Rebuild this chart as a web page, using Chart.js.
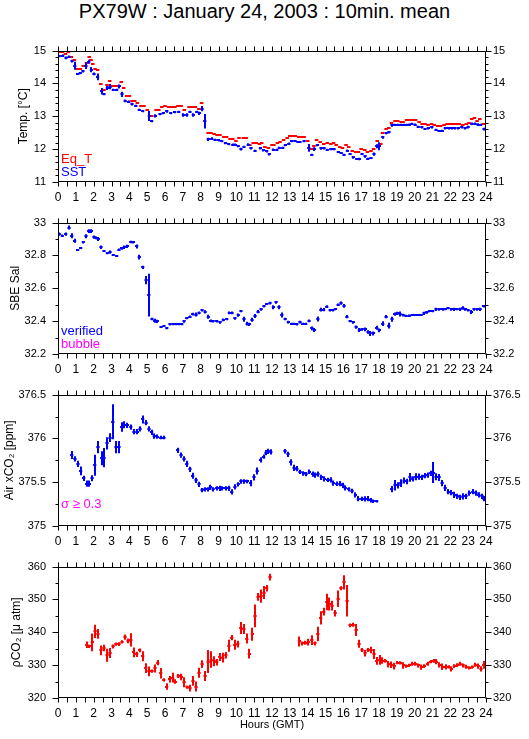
<!DOCTYPE html>
<html>
<head>
<meta charset="utf-8">
<script src="https://cdn.jsdelivr.net/npm/chart.js@4.4.1/dist/chart.umd.min.js"></script>
<style>
  body { margin: 0; background: #fff; width: 529px; height: 739px; position: relative; overflow: hidden;
         font-family: "Liberation Sans", Arial, sans-serif; }
  #title { position: absolute; left: 0; top: 0; width: 529px; text-align: center; font-size: 20px; color: #000; }
  canvas { position: absolute; left: 0; }
</style>
</head>
<body>
<div id="title">PX79W : January 24, 2003 : 10min. mean</div>
<canvas id="c1" width="529" height="180"></canvas>
<canvas id="c2" width="529" height="180"></canvas>
<canvas id="c3" width="529" height="180"></canvas>
<canvas id="c4" width="529" height="191"></canvas>
<script>
// ---- data (hours GMT, 10 min means) ----
const sstHours = [0.07,0.26,0.45,0.62,0.79,0.94,1.10,1.25,1.40,1.57,1.72,1.87,2.02,2.22,2.45,2.58,2.77,2.92,3.10,3.29,3.44,3.59,3.77,3.96,4.15,4.36,4.56,4.75,5.12,5.25,5.46,5.72,5.91,6.10,6.32,6.54,6.77,7.03,7.22,7.40,7.59,7.78,7.93,8.08,8.23,8.43,8.62,8.81,9.00,9.18,9.39,9.57,9.80,9.95,10.11,10.26,10.43,10.67,10.82,11.05,11.35,11.52,11.70,11.85,12.08,12.27,12.41,12.60,12.75,12.94,13.10,13.29,13.45,13.57,13.80,14.06,14.23,14.38,14.55,14.75,14.92,15.10,15.30,15.48,15.72,15.88,16.04,16.23,16.38,16.56,16.75,16.90,17.05,17.22,17.37,17.55,17.72,17.87,18.02,18.21,18.40,18.56,18.73,18.90,19.07,19.25,19.40,19.55,19.70,19.84,20.03,20.20,20.40,20.58,20.77,20.96,21.20,21.37,21.55,21.72,21.90,22.07,22.25,22.45,22.64,22.83,23.00,23.20,23.39,23.57,23.70,23.89];
const sstVals = [14.83,14.85,14.78,14.82,14.68,14.54,14.29,14.31,14.37,14.54,14.66,14.42,14.29,14.20,13.76,13.67,13.86,13.90,13.81,13.81,13.91,13.67,13.47,13.45,13.37,13.32,13.20,13.15,13.01,12.85,13.01,13.06,13.09,13.15,13.09,13.12,13.14,13.04,13.04,13.14,13.04,13.14,13.09,13.23,12.85,12.30,12.32,12.29,12.27,12.24,12.18,12.15,12.14,12.14,12.09,12.00,12.07,12.14,12.02,11.95,12.02,11.96,11.93,11.84,11.98,11.98,12.04,12.04,12.12,12.17,12.24,12.25,12.22,12.22,12.24,12.04,11.83,12.00,12.12,12.02,12.02,11.98,12.00,12.00,11.91,11.88,11.83,11.95,11.85,11.75,11.70,11.70,11.85,11.78,11.71,11.73,11.85,12.09,12.09,12.36,12.48,12.51,12.72,12.74,12.74,12.74,12.74,12.74,12.75,12.77,12.75,12.68,12.66,12.61,12.63,12.66,12.59,12.55,12.56,12.63,12.63,12.63,12.63,12.63,12.66,12.63,12.67,12.78,12.78,12.75,12.74,12.61];
const sstErr = [.03,.03,.04,.03,.04,.12,.03,.03,.04,.10,.06,.08,.04,.10,.10,.03,.06,.08,.03,.03,.06,.08,.04,.03,.04,.03,.03,.03,.15,.03,.05,.03,.03,.04,.03,.03,.03,.05,.05,.03,.05,.03,.05,.08,.22,.05,.04,.03,.04,.03,.03,.03,.03,.03,.03,.04,.03,.04,.03,.03,.03,.03,.03,.03,.04,.03,.03,.03,.03,.03,.03,.03,.03,.03,.03,.12,.03,.06,.03,.04,.03,.03,.03,.03,.03,.03,.03,.04,.03,.04,.03,.04,.03,.04,.03,.03,.05,.06,.12,.04,.03,.03,.04,.03,.03,.03,.03,.03,.03,.03,.03,.03,.03,.03,.03,.03,.03,.03,.03,.03,.03,.03,.03,.03,.03,.03,.04,.03,.03,.04,.03,.04];

const eqtHours = [0.08,0.25,0.42,0.58,0.75,0.92,1.08,1.25,1.42,1.60,1.75,1.85,1.95,2.08,2.22,2.40,2.58,2.75,2.90,3.08,3.25,3.42,3.55,3.68,3.85,4.00,4.15,4.30,4.45,4.65,4.82,5.00,5.15,5.25,5.50,5.65,5.82,6.00,6.20,6.38,6.55,6.72,6.90,7.08,7.35,7.52,7.70,7.90,8.05,8.42,8.58,8.75,8.92,9.08,9.30,9.45,9.65,9.80,9.98,10.15,10.40,10.55,10.75,10.95,11.12,11.30,11.42,11.60,11.80,12.00,12.10,12.30,12.45,12.65,12.85,13.00,13.15,13.30,13.50,13.65,13.80,14.00,14.20,14.35,14.50,14.70,14.90,15.10,15.30,15.45,15.60,15.80,15.95,16.15,16.30,16.50,16.70,16.85,17.00,17.20,17.35,17.55,17.70,17.90,18.10,18.20,18.40,18.55,18.70,18.90,19.05,19.25,19.35,19.55,19.70,19.88,20.05,20.25,20.42,20.58,20.75,20.95,21.10,21.30,21.45,21.65,21.82,22.00,22.15,22.32,22.50,22.70,22.90,23.05,23.20,23.35,23.50,23.65,23.85];
const eqtVals = [14.95,14.95,14.90,14.95,14.80,14.72,14.43,14.43,14.52,14.62,14.80,14.70,14.60,14.43,14.42,13.97,13.80,13.95,14.07,13.92,13.92,13.92,14.03,13.86,13.62,13.62,13.47,13.47,13.41,13.31,13.31,13.18,13.01,13.01,13.18,13.18,13.28,13.32,13.27,13.29,13.29,13.32,13.32,13.20,13.28,13.28,13.28,13.22,13.40,12.50,12.50,12.47,12.44,12.44,12.36,12.36,12.32,12.32,12.26,12.33,12.34,12.34,12.12,12.18,12.18,12.17,12.19,12.06,12.05,12.12,12.12,12.19,12.22,12.27,12.33,12.39,12.41,12.41,12.38,12.38,12.38,12.24,12.00,12.09,12.27,12.22,12.17,12.19,12.17,12.19,12.12,12.06,12.02,12.12,12.06,11.95,11.90,11.90,12.00,11.98,11.90,11.93,12.00,12.24,12.17,12.50,12.61,12.65,12.80,12.86,12.87,12.84,12.84,12.90,12.90,12.90,12.90,12.84,12.78,12.78,12.74,12.78,12.74,12.69,12.69,12.72,12.76,12.76,12.76,12.76,12.76,12.72,12.76,12.81,12.91,12.94,12.87,12.91,12.77];

const salHours = [0.07,0.24,0.43,0.62,0.77,0.93,1.10,1.27,1.42,1.57,1.72,1.87,2.02,2.15,2.26,2.41,2.58,2.77,2.92,3.10,3.29,3.42,3.57,3.72,3.89,4.08,4.23,4.41,4.56,4.75,4.94,5.09,5.27,5.42,5.57,5.78,5.94,6.10,6.28,6.47,6.63,6.78,6.94,7.07,7.22,7.40,7.55,7.74,7.91,8.08,8.25,8.43,8.56,8.70,8.90,9.09,9.27,9.46,9.61,9.76,9.92,10.11,10.26,10.43,10.61,10.73,10.88,11.05,11.22,11.39,11.55,11.70,11.89,12.08,12.23,12.39,12.55,12.74,12.92,13.10,13.25,13.39,13.57,13.72,13.89,14.08,14.23,14.38,14.57,14.74,14.89,15.07,15.26,15.41,15.56,15.71,15.87,16.04,16.20,16.38,16.56,16.72,16.90,17.05,17.24,17.39,17.50,17.69,17.87,18.02,18.21,18.40,18.55,18.73,18.88,19.03,19.18,19.36,19.51,19.70,19.85,20.03,20.19,20.37,20.53,20.68,20.83,21.01,21.20,21.39,21.57,21.72,21.87,22.06,22.21,22.36,22.55,22.70,22.85,23.00,23.18,23.33,23.52,23.67,23.86];
const salVals = [32.930,32.920,32.930,32.970,32.920,32.890,32.835,32.845,32.880,32.917,32.948,32.948,32.912,32.907,32.900,32.850,32.827,32.812,32.820,32.802,32.796,32.835,32.843,32.850,32.855,32.882,32.880,32.855,32.790,32.728,32.650,32.559,32.413,32.402,32.398,32.365,32.369,32.356,32.380,32.380,32.380,32.380,32.380,32.398,32.417,32.427,32.443,32.440,32.450,32.466,32.456,32.427,32.402,32.398,32.398,32.392,32.408,32.412,32.450,32.450,32.417,32.437,32.460,32.412,32.385,32.380,32.408,32.431,32.458,32.472,32.491,32.505,32.510,32.485,32.514,32.485,32.437,32.413,32.394,32.385,32.385,32.380,32.394,32.385,32.385,32.402,32.356,32.346,32.413,32.470,32.470,32.489,32.466,32.466,32.472,32.500,32.510,32.493,32.427,32.400,32.392,32.363,32.346,32.350,32.350,32.334,32.325,32.325,32.360,32.344,32.385,32.427,32.373,32.412,32.443,32.447,32.443,32.437,32.433,32.433,32.437,32.437,32.437,32.437,32.447,32.453,32.460,32.460,32.472,32.472,32.472,32.472,32.478,32.472,32.472,32.472,32.472,32.480,32.472,32.466,32.456,32.472,32.472,32.472,32.491];
const salErr = [.010,.008,.010,.012,.015,.012,.005,.005,.008,.012,.012,.012,.010,.008,.012,.010,.005,.005,.010,.005,.005,.008,.008,.010,.010,.008,.008,.012,.015,.010,.025,.130,.008,.012,.010,.006,.005,.005,.006,.005,.005,.005,.005,.008,.006,.008,.008,.012,.008,.008,.010,.012,.008,.006,.006,.008,.008,.006,.008,.008,.008,.010,.006,.015,.012,.010,.012,.012,.010,.008,.008,.006,.008,.012,.008,.012,.015,.008,.008,.006,.006,.006,.008,.006,.006,.008,.012,.012,.015,.012,.010,.008,.008,.008,.006,.008,.010,.012,.010,.006,.008,.010,.012,.008,.012,.010,.015,.012,.012,.012,.015,.010,.018,.015,.010,.010,.015,.008,.006,.008,.006,.006,.006,.006,.010,.008,.006,.006,.010,.008,.008,.006,.006,.008,.010,.006,.010,.010,.008,.008,.012,.008,.008,.010,.008];

const airHours = [0.77,0.95,1.12,1.27,1.44,1.61,1.76,1.91,2.06,2.24,2.45,2.58,2.75,2.92,3.07,3.25,3.42,3.57,3.72,3.89,4.08,4.26,4.45,4.60,4.75,4.94,5.10,5.25,5.40,5.57,5.76,5.94,6.71,6.90,7.07,7.22,7.40,7.55,7.74,7.91,8.08,8.25,8.42,8.55,8.70,8.90,9.06,9.22,9.40,9.58,9.74,9.92,10.11,10.26,10.45,10.62,10.80,10.99,11.17,11.36,11.53,11.66,11.79,11.93,12.73,12.90,13.05,13.24,13.39,13.57,13.76,13.91,14.10,14.28,14.41,14.58,14.77,14.94,15.12,15.29,15.44,15.63,15.82,15.96,16.11,16.30,16.49,16.68,16.84,17.03,17.20,17.37,17.53,17.68,17.87,18.71,18.90,19.07,19.22,19.41,19.55,19.74,19.89,20.06,20.23,20.40,20.56,20.73,20.90,21.05,21.20,21.37,21.54,21.71,21.89,22.06,22.23,22.39,22.54,22.73,22.88,23.07,23.26,23.44,23.59,23.78,23.89];
const airVals = [375.810,375.766,375.709,375.629,375.545,375.483,375.483,375.545,375.694,375.900,375.773,375.780,375.944,376.010,376.190,375.900,375.900,376.130,376.155,376.148,376.130,376.076,376.076,376.110,376.216,376.180,376.110,376.070,376.027,376.020,376.010,376.010,375.864,375.810,375.766,375.709,375.647,375.574,375.520,375.475,375.410,375.418,375.418,375.440,375.418,375.430,375.430,375.430,375.430,375.430,375.390,375.447,375.475,375.508,375.508,375.508,375.490,375.555,375.629,375.755,375.792,375.839,375.853,375.846,375.853,375.817,375.726,375.664,375.654,375.618,375.600,375.592,375.620,375.592,375.581,375.592,375.555,375.537,375.526,375.526,375.490,375.483,375.483,375.464,375.435,375.418,375.400,375.356,375.312,375.309,375.309,375.312,375.294,375.283,375.283,375.421,375.464,375.464,375.490,375.519,375.508,375.555,375.537,375.563,375.563,375.555,375.574,375.581,375.600,375.610,375.563,375.555,375.490,375.435,375.392,375.381,375.356,375.338,375.327,375.338,375.338,375.374,375.392,375.374,375.356,375.338,375.312];
const airErr = [.045,.03,.035,.05,.03,.035,.035,.035,.12,.07,.08,.11,.07,.05,.20,.07,.07,.055,.04,.03,.03,.03,.03,.03,.045,.03,.03,.03,.03,.025,.02,.02,.03,.03,.03,.035,.03,.035,.03,.03,.025,.025,.025,.03,.025,.025,.03,.025,.025,.03,.03,.03,.025,.025,.025,.02,.035,.035,.04,.03,.025,.03,.03,.03,.025,.03,.035,.035,.03,.025,.025,.025,.025,.03,.03,.03,.03,.03,.025,.03,.03,.025,.03,.03,.03,.025,.025,.03,.03,.025,.03,.03,.025,.02,.015,.035,.06,.035,.045,.035,.03,.05,.03,.04,.035,.03,.03,.03,.03,.12,.04,.04,.035,.035,.03,.03,.035,.03,.03,.035,.03,.03,.03,.03,.03,.03,.03];

const pco2Hours = [1.61,1.76,1.93,2.08,2.24,2.41,2.58,2.75,2.92,3.09,3.25,3.42,3.59,3.76,3.93,4.08,4.24,4.41,4.58,4.75,4.92,5.10,5.27,5.44,5.59,5.76,5.93,6.09,6.26,6.43,6.58,6.75,6.92,7.07,7.24,7.40,7.57,7.74,7.91,8.08,8.25,8.42,8.59,8.76,8.90,9.07,9.24,9.41,9.58,9.74,9.91,10.08,10.25,10.42,10.59,10.73,10.90,11.05,11.22,11.39,11.55,11.70,11.89,13.54,13.70,13.87,14.04,14.23,14.41,14.57,14.73,14.90,15.07,15.22,15.37,15.54,15.71,15.87,16.04,16.21,16.38,16.55,16.72,16.88,17.05,17.22,17.39,17.56,17.72,17.87,18.04,18.19,18.36,18.53,18.69,18.86,19.03,19.20,19.37,19.54,19.71,19.87,20.04,20.21,20.38,20.55,20.72,20.89,21.06,21.22,21.39,21.56,21.73,21.90,22.06,22.23,22.40,22.55,22.72,22.89,23.06,23.23,23.40,23.57,23.72,23.87];
const pco2Vals = [336.2,335.7,336.9,340.3,339.5,334.5,335.2,333.0,333.7,335.7,336.4,336.4,337.1,338.5,337.4,337.7,333.9,333.3,334.5,332.7,329.1,328.1,328.2,329.0,330.8,327.5,325.5,323.5,325.7,326.2,325.0,326.7,326.4,324.8,323.3,323.0,325.2,323.5,327.7,330.3,326.7,331.1,331.7,331.2,330.9,332.5,332.3,333.0,335.9,338.4,336.2,336.4,341.3,341.0,338.1,333.5,339.4,345.0,350.8,351.0,352.1,353.4,356.8,337.2,336.6,336.8,337.0,337.6,336.6,339.5,344.4,346.3,349.2,348.6,348.1,345.8,350.2,353.4,355.2,349.6,342.1,342.3,340.7,336.5,334.6,333.6,334.6,334.6,333.4,331.3,331.6,331.4,331.3,330.3,330.1,329.7,330.8,330.7,329.9,329.7,329.9,330.4,330.4,329.9,329.4,329.7,330.4,331.1,331.3,331.1,330.1,329.5,329.5,329.5,328.9,329.7,330.0,330.4,329.9,329.5,329.2,329.4,330.1,329.7,328.9,330.1];
const pco2Err = [1.0,0.5,2.7,2.0,1.5,1.5,1.0,2.0,1.5,0.6,0.5,0.6,0.5,0.8,0.7,2.0,1.5,0.8,0.6,1.5,1.5,1.5,0.5,1.2,0.8,1.6,0.5,1.0,1.0,1.5,0.7,0.6,1.0,1.5,0.5,1.0,1.5,1.5,1.5,1.2,1.5,3.5,2.5,1.5,1.0,1.2,1.5,1.0,1.8,0.8,1.5,1.0,1.8,1.5,1.5,1.5,2.0,3.5,1.2,2.0,2.0,1.0,1.0,1.5,0.6,0.6,1.0,1.5,0.6,2.2,2.0,1.2,2.5,2.0,1.5,1.0,2.5,0.6,2.2,4.8,0.6,0.6,1.8,1.2,0.6,1.0,0.6,1.0,1.5,1.2,1.5,1.0,0.6,1.0,1.0,1.0,0.5,0.5,1.0,0.5,0.5,0.6,0.6,0.6,0.8,0.6,0.6,0.5,0.6,0.8,0.8,1.0,0.8,0.5,0.8,0.6,0.6,0.6,0.6,0.6,0.5,0.5,0.6,0.8,0.8,1.2];

const hourTicks = [0,1,2,3,4,5,6,7,8,9,10,11,12,13,14,15,16,17,18,19,20,21,22,23,24];

const RED = '#ff0000', BLUE = '#0000ff', MAGENTA = '#ff00ff';
const FONT = "'Liberation Sans', Arial, sans-serif";

function pts(h, v) { return h.map((x, i) => ({ x: x, y: v[i] })); }

// draws each 10-min mean as a cross: horizontal bar = averaging window, vertical bar = std dev
const crossPlugin = {
  id: 'crosses',
  afterDatasetsDraw(chart) {
    const { ctx, chartArea: a, scales: { x, y } } = chart;
    ctx.save();
    ctx.beginPath();
    ctx.rect(a.left, a.top, a.width, a.height);
    ctx.clip();
    chart.data.datasets.forEach(ds => {
      ctx.strokeStyle = ds.borderColor;
      ctx.lineWidth = 2;
      ctx.beginPath();
      ds.data.forEach((p, i) => {
        const px = Math.round(x.getPixelForValue(p.x));
        const py = Math.round(y.getPixelForValue(p.y));
        ctx.moveTo(x.getPixelForValue(p.x - ds.halfBin), py);
        ctx.lineTo(x.getPixelForValue(p.x + ds.halfBin), py);
        if (ds.err) {
          const e = ds.err[i];
          ctx.moveTo(px, y.getPixelForValue(p.y - e));
          ctx.lineTo(px, y.getPixelForValue(p.y + e));
        }
      });
      ctx.stroke();
    });
    ctx.restore();
  }
};

// box with outward ticks on all four sides, plus the in-plot notes
const framePlugin = {
  id: 'frame',
  afterDraw(chart) {
    const { ctx, chartArea: a, scales: { x, y } } = chart;
    const opt = chart.options.plugins.frame;
    ctx.save();
    ctx.strokeStyle = '#000';
    ctx.lineWidth = 1;
    ctx.beginPath();
    const L = Math.round(a.left) + 0.5, R = Math.round(a.right) - 0.5;
    const T = Math.round(a.top) + 0.5, B = Math.round(a.bottom) - 0.5;
    ctx.rect(L, T, R - L, B - T);
    for (let v = 0; v <= 24.001; v += 0.5) {
      const px = Math.round(x.getPixelForValue(v)) + 0.5;
      ctx.moveTo(px, T); ctx.lineTo(px, T - 5);
      ctx.moveTo(px, B); ctx.lineTo(px, B + 5);
    }
    const n = Math.round((y.max - y.min) / opt.minor);
    for (let k = 0; k <= n; k++) {
      const v = y.min + k * opt.minor;
      const major = Math.abs(v / opt.major - Math.round(v / opt.major)) < 1e-6;
      const len = major ? 6 : 3;
      const py = Math.round(y.getPixelForValue(v)) + 0.5;
      ctx.moveTo(L, py); ctx.lineTo(L - len, py);
      ctx.moveTo(R, py); ctx.lineTo(R + len, py);
    }
    ctx.stroke();
    ctx.font = '13px ' + FONT;
    ctx.textBaseline = 'alphabetic';
    (opt.notes || []).forEach(nt => {
      ctx.fillStyle = nt.color;
      ctx.fillText(nt.text, a.left + 3, a.bottom - nt.up);
    });
    ctx.restore();
  }
};

function fmt(v) { return String(+v.toFixed(2)); }

function makePanel(id, top, datasets, yMin, yMax, major, minor, yTitle, titlePad, notes, xTitle) {
  const canvas = document.getElementById(id);
  canvas.style.top = (top - 12) + 'px';
  const xHeight = canvas.height - 12 - 138;
  const tickFont = { family: FONT, size: 11 };
  const noGrid = { display: false, drawTicks: false };
  return new Chart(canvas, {
    type: 'scatter',
    data: { datasets: datasets },
    options: {
      responsive: false,
      animation: false,
      devicePixelRatio: 1,
      layout: { padding: { top: 12, left: 0, right: 0, bottom: 0 } },
      elements: { point: { radius: 0, hoverRadius: 0 } },
      plugins: {
        legend: { display: false },
        tooltip: { enabled: false },
        frame: { major: major, minor: minor, notes: notes }
      },
      scales: {
        x: {
          type: 'linear', min: 0, max: 24, position: 'bottom',
          grid: noGrid, border: { display: false },
          afterBuildTicks: s => { s.ticks = hourTicks.map(v => ({ value: v })); },
          ticks: { autoSkip: false, maxRotation: 0, padding: 8, color: '#000', font: { family: FONT, size: 12 },
                   callback: v => String(v) },
          title: xTitle ? { display: true, text: xTitle, color: '#000', font: { family: FONT, size: 11 },
                            padding: { top: 0, bottom: 7 } } : { display: false },
          afterFit: s => { s.height = xHeight; }
        },
        y: {
          type: 'linear', min: yMin, max: yMax, position: 'left',
          grid: noGrid, border: { display: false },
          ticks: { stepSize: major, padding: 12, color: '#000', font: tickFont, callback: fmt },
          title: { display: true, text: yTitle, color: '#000', font: { family: FONT, size: 12 },
                   padding: { top: titlePad, bottom: 0 } },
          afterFit: s => { s.width = 58; }
        },
        y2: {
          type: 'linear', min: yMin, max: yMax, position: 'right',
          grid: noGrid, border: { display: false },
          ticks: { stepSize: major, padding: 7, color: '#000', font: tickFont, callback: fmt },
          afterFit: s => { s.width = 43; }
        }
      }
    },
    plugins: [crossPlugin, framePlugin]
  });
}

makePanel('c1', 44, [
  { data: pts(eqtHours, eqtVals), borderColor: RED, halfBin: 0.1 },
  { data: pts(sstHours, sstVals), borderColor: BLUE, halfBin: 0.09, err: sstErr }
], 11, 15, 1, 0.2, 'Temp. [°C]', 16,
  [{ text: 'Eq_T', color: RED, up: 19 }, { text: 'SST', color: BLUE, up: 6 }]);

makePanel('c2', 216, [
  { data: pts(salHours, salVals), borderColor: BLUE, halfBin: 0.09, err: salErr }
], 32.2, 33, 0.2, 0.1, 'SBE Sal', 8,
  [{ text: 'verified', color: BLUE, up: 19 }, { text: 'bubble', color: MAGENTA, up: 6 }]);

makePanel('c3', 388, [
  { data: pts(airHours, airVals), borderColor: BLUE, halfBin: 0.09, err: airErr }
], 375, 376.5, 0.5, 0.25, 'Air xCO₂ [ppm]', 2,
  [{ text: 'σ ≥ 0.3', color: MAGENTA, up: 18 }]);

makePanel('c4', 560, [
  { data: pts(pco2Hours, pco2Vals), borderColor: RED, halfBin: 0.09, err: pco2Err }
], 320, 360, 10, 5, 'ρCO₂ [μ atm]', 9, [], 'Hours (GMT)');
</script>
</body>
</html>
